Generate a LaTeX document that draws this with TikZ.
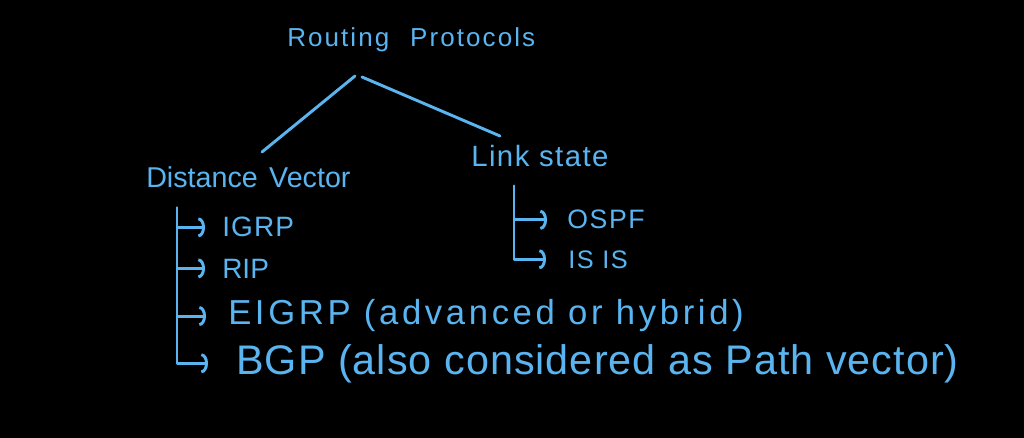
\documentclass[tikz,border=0pt]{standalone}
\usepackage{fontspec}
\setmainfont{Liberation Sans}
\usetikzlibrary{arrows.meta,calc}
\definecolor{ink}{HTML}{5AB4F0}
\tikzset{
  txt/.style={text=ink, inner sep=0pt, anchor=base west},
  ln/.style={draw=ink, line width=2.2pt, line cap=round, line join=round},
  hook/.style={ln, -{Arc Barb[length=5pt,width=15pt,line width=2.2pt]}}
}
\begin{document}
\begin{tikzpicture}[x=0.75pt,y=-0.75pt]
\fill[black] (0,0) rectangle (1024,438);
\useasboundingbox (0,0) rectangle (1024,438);
% text nodes
\node[txt, font=\fontsize{19.5pt}{22pt}\selectfont\addfontfeature{LetterSpace=8}] (rp) at (287,47) {Routing\hspace{0.8em}Protocols};
\node[txt, font=\fontsize{21.5pt}{24pt}\selectfont] (dv) at (146,188) {Distance\hspace{0.4em}Vector};
\node[txt, font=\fontsize{22pt}{24pt}\selectfont\addfontfeature{LetterSpace=5}] (ls) at (471,167) {Link state};
\node[txt, font=\fontsize{21pt}{24pt}\selectfont\addfontfeature{LetterSpace=4}] (igrp) at (222,237) {IGRP};
\node[txt, font=\fontsize{21pt}{24pt}\selectfont] (rip) at (222,278) {RIP};
\node[txt, font=\fontsize{26pt}{28pt}\selectfont\addfontfeature{LetterSpace=10.5}] (eigrp) at (228,325) {EIGRP (advanced or hybrid)};
\node[txt, font=\fontsize{31pt}{34pt}\selectfont\addfontfeature{LetterSpace=2.5}] (bgp) at (236,374) {BGP (also considered as Path vector)};
\node[txt, font=\fontsize{20pt}{22pt}\selectfont\addfontfeature{LetterSpace=6}] (ospf) at (567,229) {OSPF};
\node[txt, font=\fontsize{19pt}{22pt}\selectfont\addfontfeature{LetterSpace=6}] (isis) at (568,268) {IS IS};
% tree lines
\coordinate (r1) at (355,76);
\coordinate (r2) at (362,77);
\coordinate (dvT) at (262,152);
\coordinate (lsT) at (500,136);
\draw[ln] (r1) -- (dvT);
\draw[ln] (r2) -- (lsT);
% left bracket
\coordinate (dvb) at (177,208);
\draw[hook] (dvb) |- ($(igrp.west)+(-17,0)$);
\draw[hook] (dvb) |- ($(rip.west)+(-17,0)$);
\draw[hook] (dvb) |- ($(eigrp.west)+(-22,0)$);
\draw[hook] (dvb) |- ($(bgp.west)+(-28,0)$);
% right bracket
\coordinate (lsb) at (514,186);
\draw[hook] (lsb) |- ($(ospf.west)+(-20,0)$);
\draw[hook] (lsb) |- ($(isis.west)+(-22,0)$);
\end{tikzpicture}
\end{document}
